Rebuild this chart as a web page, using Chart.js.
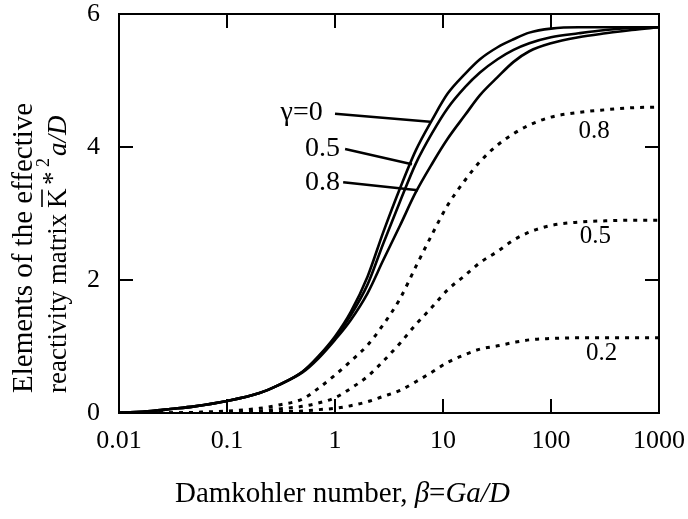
<!DOCTYPE html>
<html lang="en">
<head>
<meta charset="UTF-8">
<title>Effective reactivity matrix vs Damkohler number</title>
<script src="https://cdn.jsdelivr.net/npm/chart.js@4.4.1/dist/chart.umd.min.js"></script>
<style>
  html, body { margin: 0; padding: 0; background: #fff; overflow: hidden; }
  .wrap { width: 688px; height: 519px; overflow: hidden; }
</style>
</head>
<body>
<div class="wrap"><canvas id="chart" width="720" height="519"></canvas></div>
<script>
// Damkohler number beta (x, log scale)
const beta = [0.01, 0.02, 0.03, 0.05, 0.1, 0.2, 0.3, 0.5, 0.7, 1, 1.4, 2, 2.8, 4, 5.6, 8, 11, 16, 22, 32, 45, 63, 100, 180, 320, 560, 1000];

// solid curves (diagonal elements) for gamma = 0, 0.5, 0.8
const solidG0  = [0, 0.03, 0.06, 0.1, 0.18, 0.3, 0.42, 0.62, 0.85, 1.15, 1.52, 2.05, 2.72, 3.38, 3.95, 4.42, 4.8, 5.1, 5.32, 5.5, 5.62, 5.72, 5.78, 5.8, 5.8, 5.8, 5.8];
const solidG05 = [0, 0.03, 0.06, 0.1, 0.18, 0.3, 0.42, 0.62, 0.84, 1.13, 1.47, 1.93, 2.55, 3.18, 3.75, 4.22, 4.58, 4.9, 5.12, 5.32, 5.46, 5.56, 5.65, 5.71, 5.76, 5.79, 5.8];
const solidG08 = [0, 0.03, 0.06, 0.1, 0.18, 0.3, 0.42, 0.61, 0.82, 1.1, 1.4, 1.8, 2.3, 2.82, 3.32, 3.76, 4.12, 4.48, 4.78, 5.05, 5.28, 5.44, 5.56, 5.65, 5.71, 5.76, 5.8];

// dotted curves (off-diagonal elements) for gamma = 0.8, 0.5, 0.2
const dotG08 = [0, 0, 0, 0.01, 0.03, 0.07, 0.12, 0.21, 0.37, 0.57, 0.78, 1.02, 1.33, 1.72, 2.2, 2.7, 3.12, 3.5, 3.78, 4.03, 4.2, 4.33, 4.45, 4.52, 4.56, 4.59, 4.6];
const dotG05 = [0, 0, 0, 0, 0.01, 0.03, 0.06, 0.1, 0.15, 0.23, 0.37, 0.55, 0.78, 1.05, 1.33, 1.6, 1.85, 2.07, 2.26, 2.43, 2.6, 2.72, 2.82, 2.87, 2.89, 2.9, 2.9];
const dotG02 = [0, 0, 0, 0, 0, 0.01, 0.02, 0.03, 0.05, 0.07, 0.11, 0.17, 0.25, 0.34, 0.47, 0.62, 0.76, 0.88, 0.96, 1.01, 1.06, 1.1, 1.12, 1.13, 1.13, 1.13, 1.13];

const xTickValues = [0.01, 0.1, 1, 10, 100, 1000];
const xTickLabels = ['0.01', '0.1', '1', '10', '100', '1000'];
const yTickValues = [0, 2, 4, 6];

// curve labels, placed in data coordinates
const leftNotes = [
  { text: 'γ=0', x: 0.77, y: 4.51, from: [1.0, 4.5], to: [7.6, 4.38] },
  { text: '0.5', x: 1.11, y: 3.98, from: [1.24, 3.97], to: [5.16, 3.74] },
  { text: '0.8', x: 1.11, y: 3.47, from: [1.19, 3.47], to: [5.88, 3.35] }
];
const rightNotes = [
  { text: '0.8', x: 251, y: 4.23 },
  { text: '0.5', x: 257, y: 2.65 },
  { text: '0.2', x: 295, y: 0.9 }
];

const toPoints = ys => beta.map((b, i) => ({ x: b, y: ys[i] }));

function solid(ys) {
  return { data: toPoints(ys), borderColor: '#000', borderWidth: 2.6, pointRadius: 0,
           cubicInterpolationMode: 'monotone', fill: false };
}
function dotted(ys) {
  return { data: toPoints(ys), borderColor: '#000', borderWidth: 3, borderDash: [4, 6],
           pointRadius: 0, cubicInterpolationMode: 'monotone', fill: false };
}

const SERIF = '"Liberation Serif", "Times New Roman", serif';

const decorations = {
  id: 'decorations',
  afterDraw(chart) {
    const { ctx, chartArea: a, scales: { x, y } } = chart;
    ctx.save();
    ctx.strokeStyle = '#000';
    ctx.fillStyle = '#000';

    // frame
    ctx.lineWidth = 2;
    ctx.strokeRect(a.left, a.top, a.right - a.left, a.bottom - a.top);

    // inward ticks on all sides
    const tl = 14;
    ctx.beginPath();
    xTickValues.forEach(v => {
      const px = x.getPixelForValue(v);
      ctx.moveTo(px, a.bottom); ctx.lineTo(px, a.bottom - tl);
      ctx.moveTo(px, a.top); ctx.lineTo(px, a.top + tl);
    });
    yTickValues.forEach(v => {
      const py = y.getPixelForValue(v);
      ctx.moveTo(a.left, py); ctx.lineTo(a.left + tl, py);
      ctx.moveTo(a.right, py); ctx.lineTo(a.right - tl, py);
    });
    ctx.stroke();

    // left labels with leader lines
    ctx.lineWidth = 2.4;
    ctx.font = '28px ' + SERIF;
    ctx.textAlign = 'right';
    ctx.textBaseline = 'middle';
    leftNotes.forEach(n => {
      ctx.fillText(n.text, x.getPixelForValue(n.x), y.getPixelForValue(n.y));
      ctx.beginPath();
      ctx.moveTo(x.getPixelForValue(n.from[0]), y.getPixelForValue(n.from[1]));
      ctx.lineTo(x.getPixelForValue(n.to[0]), y.getPixelForValue(n.to[1]));
      ctx.stroke();
    });

    // right labels
    ctx.font = '25px ' + SERIF;
    ctx.textAlign = 'center';
    rightNotes.forEach(n => {
      ctx.fillText(n.text, x.getPixelForValue(n.x), y.getPixelForValue(n.y));
    });

    // y axis title (two lines, rotated)
    ctx.textAlign = 'left';
    ctx.textBaseline = 'alphabetic';
    ctx.save();
    ctx.translate(32, 393);
    ctx.rotate(-Math.PI / 2);
    ctx.font = '29px ' + SERIF;
    ctx.fillText('Elements of the effective', 0, 0);
    ctx.restore();

    ctx.save();
    ctx.translate(66, 393);
    ctx.rotate(-Math.PI / 2);
    ctx.font = '27px ' + SERIF;
    ctx.fillText('reactivity matrix ', 0, 0);
    const k0 = 185;
    const kw = ctx.measureText('K').width;
    ctx.fillText('K', k0, 0);
    ctx.lineWidth = 1.6;
    ctx.beginPath(); ctx.moveTo(k0 + 1, -24); ctx.lineTo(k0 + kw - 1, -24); ctx.stroke();
    ctx.fillText('*', 208, -5);
    ctx.font = '18px ' + SERIF;
    ctx.fillText('2', 226, -17);
    ctx.font = 'italic 27px ' + SERIF;
    ctx.fillText('a/D', 237, 0);
    ctx.restore();

    // x axis title
    let tx = 175;
    const parts = [['Damkohler number, ', ''], ['β', 'italic '], ['=', ''], ['Ga/D', 'italic ']];
    parts.forEach(([s, style]) => {
      ctx.font = style + '29px ' + SERIF;
      ctx.fillText(s, tx, 502);
      tx += ctx.measureText(s).width;
    });

    ctx.restore();
  }
};

new Chart(document.getElementById('chart'), {
  type: 'line',
  data: {
    datasets: [solid(solidG0), solid(solidG05), solid(solidG08), dotted(dotG08), dotted(dotG05), dotted(dotG02)]
  },
  options: {
    responsive: false,
    animation: false,
    devicePixelRatio: 1,
    layout: { padding: { top: 14, right: 61, left: 0, bottom: 0 } },
    plugins: { legend: { display: false }, tooltip: { enabled: false } },
    scales: {
      x: {
        type: 'logarithmic',
        min: 0.01,
        max: 1000,
        grid: { display: false, drawTicks: false },
        border: { display: false },
        afterBuildTicks: s => { s.ticks = xTickValues.map(v => ({ value: v })); },
        afterFit: s => { s.height = 106; s.paddingLeft = 0; s.paddingRight = 0; },
        ticks: {
          autoSkip: false,
          maxRotation: 0,
          padding: 13,
          color: '#000',
          font: { family: SERIF, size: 26 },
          callback: (v, i) => xTickLabels[i]
        }
      },
      y: {
        min: 0,
        max: 6,
        grid: { display: false, drawTicks: false },
        border: { display: false },
        afterBuildTicks: s => { s.ticks = yTickValues.map(v => ({ value: v })); },
        afterFit: s => { s.width = 119; s.paddingTop = 0; s.paddingBottom = 0; },
        ticks: {
          padding: 19,
          color: '#000',
          font: { family: SERIF, size: 26 }
        }
      }
    }
  },
  plugins: [decorations]
});
</script>
</body>
</html>
